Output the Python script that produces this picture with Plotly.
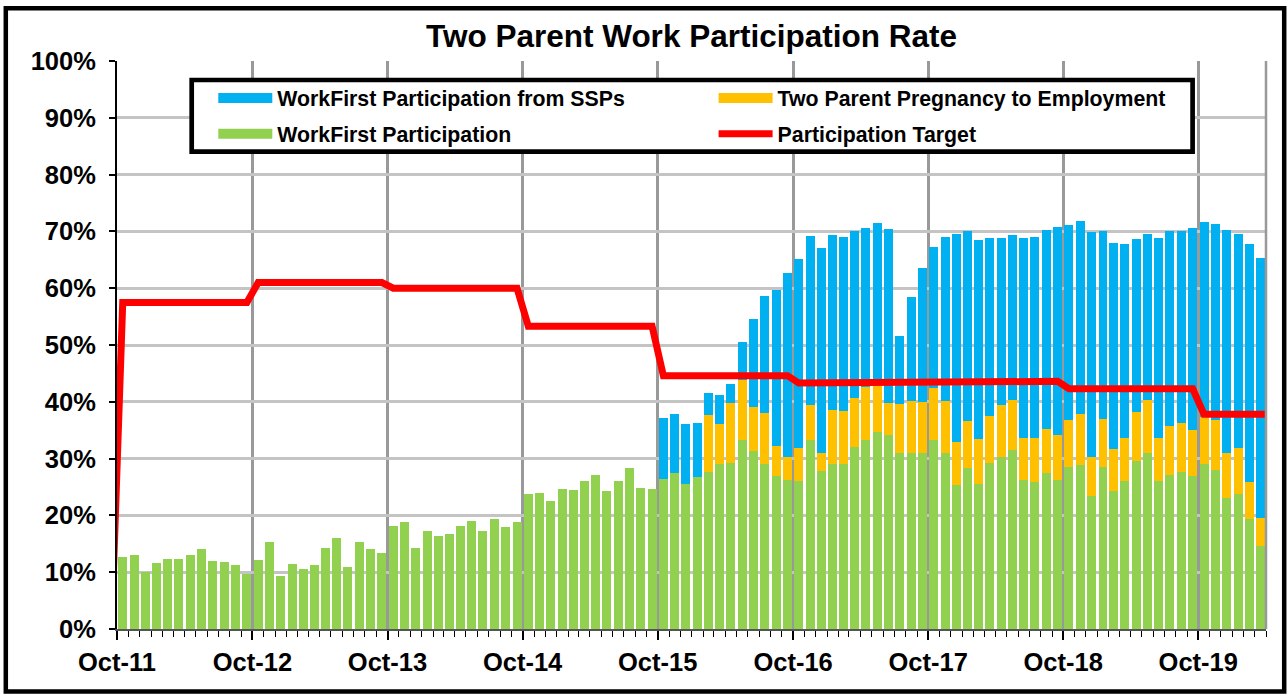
import pandas as pd
import plotly.graph_objects as go

# ---------------- data (percent) ----------------
months = pd.date_range("2011-10-01", "2020-03-01", freq="MS")          # Oct-11 .. Mar-20 (bars)
target_months = pd.date_range("2011-09-01", "2020-04-01", freq="MS")   # Sep-11 .. Apr-20 (line)

workfirst = [
    12.6, 13.1, 10.1, 11.6, 12.3, 12.4, 13.1, 14.0, 12.0, 11.8, 11.3, 9.6,
    12.2, 15.4, 9.3, 11.5, 10.5, 11.3, 14.2, 16.0, 10.9, 15.4, 14.0, 13.4,
    18.1, 18.9, 14.3, 17.2, 16.3, 16.7, 18.2, 19.1, 17.3, 19.4, 17.9, 18.8,
    23.8, 23.9, 22.5, 24.7, 24.5, 26.1, 27.1, 24.3, 26.0, 28.3, 24.8, 24.6,
    26.4, 27.5, 25.6, 26.7, 27.7, 29.1, 29.2, 33.3, 31.3, 29.1, 27.0, 26.2,
    26.0, 33.2, 27.8, 29.1, 29.1, 32.1, 33.2, 34.6, 34.1, 30.9, 30.9, 30.9,
    33.3, 30.9, 25.4, 28.4, 25.6, 29.2, 30.2, 31.5, 26.3, 25.8, 27.4, 26.3,
    28.6, 28.8, 23.4, 28.6, 24.3, 26.0, 29.6, 30.9, 26.1, 27.1, 27.7, 27.0,
    29.1, 28.0, 23.1, 23.8, 19.4, 14.6,
]

pregnancy_to_employment = [None] * 52 + [
    9.9, 7.0, 10.6, 10.5, 7.8, 8.9, 5.3, 4.1,
    5.8, 6.2, 3.2, 9.4, 9.2, 8.6, 9.4, 8.3, 5.7, 8.7, 9.3, 9.1,
    9.1, 9.3, 7.6, 8.3, 7.8, 8.3, 9.3, 8.8, 7.4, 7.8, 7.8, 7.8,
    8.2, 9.1, 6.9, 8.4, 7.4, 7.7, 8.6, 9.5, 7.5, 8.7, 8.6, 8.1,
    8.3, 8.8, 7.9, 8.0, 6.4, 5.0,
]

workfirst_ssp = [None] * 48 + [
    10.8, 10.3, 10.5, 9.5, 3.9, 5.1, 3.3, 6.8, 15.4, 20.6, 27.3, 32.3,
    33.3, 29.8, 36.1, 30.9, 30.8, 29.4, 28.0, 28.5, 30.7, 12.0, 18.3, 23.6,
    24.8, 28.8, 36.5, 33.4, 35.1, 31.3, 29.3, 29.1, 35.2, 35.5, 35.1, 36.7,
    34.4, 33.9, 39.6, 33.1, 36.3, 34.1, 30.5, 29.2, 35.2, 34.3, 33.8, 35.5,
    34.3, 34.5, 39.3, 37.7, 42.0, 45.8,
]

participation_target = [
    0.0,
    57.5, 57.5, 57.5, 57.5, 57.5, 57.5, 57.5, 57.5, 57.5, 57.5, 57.5, 57.5,
    61.0, 61.0, 61.0, 61.0, 61.0, 61.0, 61.0, 61.0, 61.0, 61.0, 61.0, 61.0,
    60.0, 60.0, 60.0, 60.0, 60.0, 60.0, 60.0, 60.0, 60.0, 60.0, 60.0, 60.0,
    53.3, 53.3, 53.3, 53.3, 53.3, 53.3, 53.3, 53.3, 53.3, 53.3, 53.3, 53.3,
    44.6, 44.6, 44.6, 44.6, 44.6, 44.6, 44.6, 44.6, 44.6, 44.6, 44.6, 44.6,
    43.3, 43.3, 43.3, 43.3, 43.3, 43.3, 43.3, 43.3, 43.3, 43.3, 43.3, 43.3,
    43.6, 43.6, 43.6, 43.6, 43.6, 43.6, 43.6, 43.6, 43.6, 43.6, 43.6, 43.6,
    42.3, 42.3, 42.3, 42.3, 42.3, 42.3, 42.3, 42.3, 42.3, 42.3, 42.3, 42.3,
    37.8, 37.8, 37.8, 37.8, 37.8, 37.8, 37.8,
]

names = {
    "ssp": "WorkFirst Participation from SSPs",
    "p2e": "Two Parent Pregnancy to Employment",
    "wf": "WorkFirst Participation",
    "tgt": "Participation Target",
}
colors = {"ssp": "#00B0F0", "p2e": "#FFC000", "wf": "#92D050", "tgt": "#FF0000"}

# ---------------- figure ----------------
W, H = 1287, 698
ML, MR, MT, MB = 117, 21, 61, 69
PW, PH = W - ML - MR, H - MT - MB
FONT = "Liberation Sans, Arial, sans-serif"
BAR_W = 24.3 * 86400000  # ms


def px_x(p):
    return (p - ML) / PW


def px_y(p):
    return (MT + PH - p) / PH


fig = go.Figure()
for key, vals in (("wf", workfirst), ("p2e", pregnancy_to_employment), ("ssp", workfirst_ssp)):
    fig.add_trace(go.Bar(
        x=months, y=vals, name=names[key], legendgroup=key, showlegend=False,
        xperiod="M1", xperiodalignment="middle", width=BAR_W,
        marker=dict(color=colors[key], line=dict(width=0)),
    ))

fig.add_trace(go.Scatter(
    x=target_months, y=participation_target, name=names["tgt"], legendgroup="tgt",
    xperiod="M1", xperiodalignment="middle", mode="lines",
    line=dict(color=colors["tgt"], width=7), legend="legend2", legendrank=2,
))

# legend entries for the bar series (wide swatches like the original)
for key, leg, rank in (("ssp", "legend", 1), ("p2e", "legend", 2), ("wf", "legend2", 1)):
    fig.add_trace(go.Scatter(
        x=[None], y=[None], mode="lines", name=names[key], legendgroup=key,
        line=dict(color=colors[key], width=13), legend=leg, legendrank=rank,
        hoverinfo="skip",
    ))

legend_common = dict(
    orientation="h", xanchor="left", yanchor="top",
    bgcolor="rgba(0,0,0,0)", borderwidth=0,
    font=dict(size=21.3, family=FONT, color="black", weight="bold"),
    itemwidth=54, entrywidth=412, indentation=19.3, traceorder="normal",
)

fig.update_layout(
    width=W, height=H,
    margin=dict(l=ML, r=MR, t=MT, b=MB),
    paper_bgcolor="white", plot_bgcolor="white",
    barmode="stack", bargap=0.2,
    font=dict(family=FONT, color="black"),
    title=dict(text="<b>Two Parent Work Participation Rate</b>", x=0.5, xref="paper",
               xanchor="center", y=1 - 36 / H, yanchor="middle",
               font=dict(size=31.5, family=FONT, color="black")),
    showlegend=True,
    legend=dict(legend_common, x=px_x(194), y=px_y(77.6)),
    legend2=dict(legend_common, x=px_x(194), y=px_y(113.3)),
    xaxis=dict(
        type="date", range=["2011-10-01", "2020-04-01"],
        tick0="2011-10-01", dtick="M12", tickformat="%b-%y",
        ticks="outside", ticklen=9, tickwidth=1.5, tickcolor="black",
        showgrid=True, gridcolor="#999999", gridwidth=3,
        minor=dict(dtick="M1", ticks="outside", ticklen=6, tickwidth=1, tickcolor="black", showgrid=False),
        showline=True, linecolor="#555555", linewidth=2,
        tickfont=dict(size=25.5, family=FONT, color="black", weight="bold"),
        ticklabelstandoff=0,
    ),
    yaxis=dict(
        range=[0, 100], dtick=10, ticksuffix="%",
        ticks="outside", ticklen=6, tickwidth=2, tickcolor="black",
        showgrid=True, gridcolor="#C4C4C4", gridwidth=2.5,
        showline=True, linecolor="black", linewidth=2,
        tickfont=dict(size=25.5, family=FONT, color="black", weight="bold"),
        ticklabelstandoff=8, zeroline=False,
    ),
    shapes=[
        # plot-area right edge
        dict(type="line", xref="paper", yref="paper", x0=1, x1=1, y0=0, y1=1,
             line=dict(color="#999999", width=2.5), layer="above"),
        # legend box
        dict(type="rect", xref="paper", yref="paper",
             x0=px_x(191.7), x1=px_x(1192.6), y0=px_y(151.7), y1=px_y(80),
             line=dict(color="black", width=4.7), fillcolor="white", layer="above"),
        # chart outer border
        dict(type="rect", xref="paper", yref="paper",
             x0=px_x(5.8), x1=px_x(1284.2), y0=px_y(691.5), y1=px_y(8.3),
             line=dict(color="black", width=4.5), layer="above"),
    ],
)

fig.write_html("out.html", config={"displayModeBar": False},
               post_script="document.body.style.margin='0';")
